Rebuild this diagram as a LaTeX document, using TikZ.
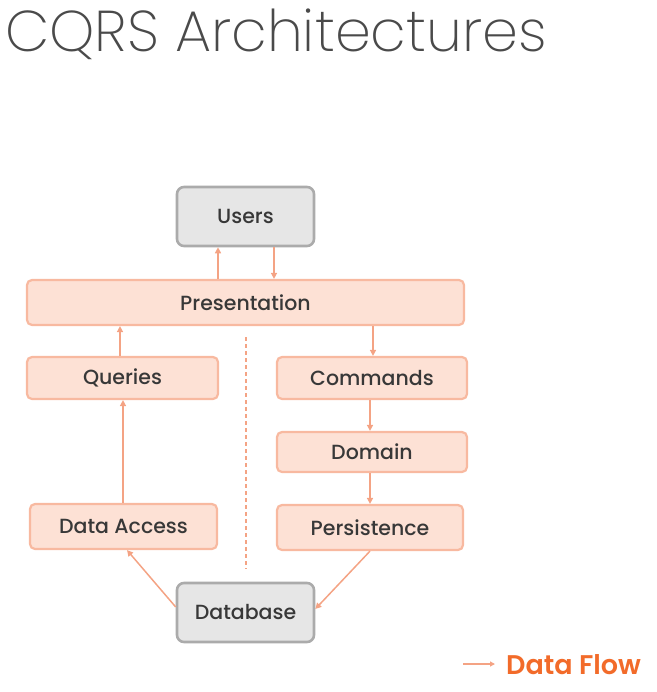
\documentclass[tikz,border=0pt]{standalone}
\usepackage{fontspec}
\setmainfont{Poppins}
\newfontfamily\titlefont{Poppins ExtraLight}
\newfontfamily\labelfont{Poppins Medium}
\newfontfamily\legendfont{Poppins SemiBold}
\usetikzlibrary{arrows.meta}
\definecolor{boxfill}{HTML}{FDE1D5}
\definecolor{boxline}{HTML}{F8B9A0}
\definecolor{grayfill}{HTML}{E6E6E6}
\definecolor{grayline}{HTML}{ABABAB}
\definecolor{flow}{HTML}{F4A384}
\definecolor{txt}{HTML}{383838}
\definecolor{legendtxt}{HTML}{F26B2A}
\definecolor{titlegray}{HTML}{4A4A4A}
\begin{document}
\begin{tikzpicture}[x=1pt,y=-1pt,
  layer/.style={draw=boxline,fill=boxfill,line width=2.2pt,rounded corners=5pt,
    font=\labelfont\fontsize{20.5}{22}\selectfont,text=txt,inner sep=0pt},
  ext/.style={draw=grayline,fill=grayfill,line width=2.6pt,rounded corners=7pt,
    font=\labelfont\fontsize{20.5}{22}\selectfont,text=txt,inner sep=0pt},
  flowarrow/.style={draw=flow,line width=1.5pt,-{Triangle[length=6pt,width=6pt]}}]
\useasboundingbox (0,0) rectangle (656,692);
\node[anchor=base west,font=\titlefont\fontsize{57.5}{60}\selectfont,text=titlegray,inner sep=0pt] (title) at (5,52) {CQRS Architectures};
\node[ext,minimum width=137pt,minimum height=59pt] (users) at (245.5,216.5) {Users};
\node[layer,minimum width=437pt,minimum height=45pt] (pres) at (245.5,302.5) {Presentation};
\node[layer,minimum width=191pt,minimum height=42pt] (queries) at (122.5,378) {Queries};
\node[layer,minimum width=190pt,minimum height=42pt] (commands) at (372,378) {Commands};
\node[layer,minimum width=190pt,minimum height=40pt] (domain) at (372,452) {Domain};
\node[layer,minimum width=187pt,minimum height=45pt] (dataaccess) at (123.5,526.5) {Data Access};
\node[layer,minimum width=186pt,minimum height=45pt] (persist) at (370,527.5) {Persistence};
\node[ext,minimum width=137pt,minimum height=59pt] (db) at (245.5,612.5) {Database};
\coordinate (dtop) at (246,337);
\coordinate (dbot) at (246,569);
\draw[flow,line width=1.2pt,dash pattern=on 4pt off 3pt] (dtop) -- (dbot);
\draw[flowarrow] (pres.north -| 218,0) -- (users.south -| 218,0);
\draw[flowarrow] (users.south -| 274,0) -- (pres.north -| 274,0);
\draw[flowarrow] (queries.north -| 120,0) -- (pres.south -| 120,0);
\draw[flowarrow] (pres.south -| 373,0) -- (commands.north -| 373,0);
\draw[flowarrow] (commands.south -| 370,0) -- (domain.north -| 370,0);
\draw[flowarrow] (domain.south -| 370,0) -- (persist.north -| 370,0);
\draw[flowarrow] (dataaccess.north -| 123,0) -- (queries.south -| 123,0);
\draw[flowarrow] (db.west |- 0,607) -- (dataaccess.south -| 127,0);
\draw[flowarrow] (persist.south -| 370,0) -- (db.east |- 0,609);
\coordinate (la) at (463,664);
\coordinate (lb) at (495,664);
\draw[draw=flow,line width=1.3pt,-{Triangle[length=5pt,width=5pt]}] (la) -- (lb);
\node[anchor=west,font=\legendfont\fontsize{27}{29}\selectfont,text=legendtxt,inner sep=0pt] (legend) at (506,665) {Data Flow};
\end{tikzpicture}
\end{document}
